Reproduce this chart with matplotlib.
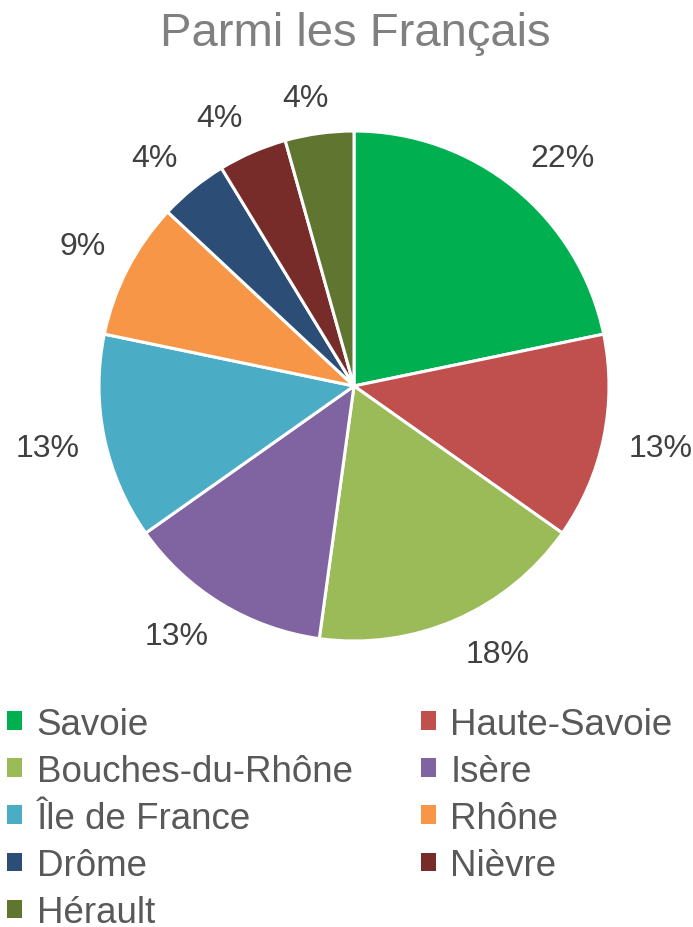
import numpy as np
import matplotlib.pyplot as plt
from matplotlib.patches import Patch

plt.rcParams['font.family'] = ['Liberation Sans', 'DejaVu Sans']

regions = ['Savoie', 'Haute-Savoie', 'Bouches-du-Rhône', 'Isère', 'Île de France',
           'Rhône', 'Drôme', 'Nièvre', 'Hérault']
counts = [5, 3, 4, 3, 3, 2, 1, 1, 1]
colors = ['#00B050', '#C0504D', '#9BBB59', '#8064A2', '#4BACC6',
          '#F79646', '#2C4D75', '#772C2A', '#5F7530']

# whole percentages that add up to 100 (largest remainder)
raw = 100.0 * np.array(counts) / sum(counts)
pct = np.floor(raw).astype(int)
for i in np.argsort(-(raw - pct))[:100 - pct.sum()]:
    pct[i] += 1

fig = plt.figure(figsize=(6.93, 9.28), dpi=100)
fig.text(0.512, 0.963, 'Parmi les Français', ha='center', va='center',
         fontsize=34, color='#808080')

# pie centre ~ (354, 387) px, radius ~255 px
R_PX = 255.0
ax = fig.add_axes([(354 - R_PX) / 693, (541 - R_PX) / 928, 2 * R_PX / 693, 2 * R_PX / 928])
wedges = ax.pie(counts, colors=colors, startangle=90, counterclock=False,
                wedgeprops=dict(edgecolor='white', linewidth=2.2))[0]
ax.set_xlim(-1, 1)
ax.set_ylim(-1, 1)
ax.set_aspect('equal')

# outside-end labels: the near corner/edge of the label sits on the mid ray
renderer = fig.canvas.get_renderer()
D = 1 + 25.0 / R_PX
for w, p in zip(wedges, pct):
    mid = np.deg2rad((w.theta1 + w.theta2) / 2)
    c, s = np.cos(mid), np.sin(mid)
    t = ax.text(0, 0, '%d%%' % p, ha='center', va='center', fontsize=23, color='#404040')
    bb = t.get_window_extent(renderer)
    a = bb.width / 2 / R_PX
    b = 0.36 * bb.height / R_PX
    t.set_position((D * c + a * np.clip(c / 0.3, -1, 1),
                    D * s + b * np.clip(s / 0.4, -1, 1)))

# legend filled row by row, matplotlib fills column by column
order = [0, 2, 4, 6, 8, 1, 3, 5, 7]
handles = [Patch(facecolor=colors[i], label=regions[i]) for i in order]
fig.legend(handles=handles, loc='upper left', bbox_to_anchor=(0.0, 0.2455),
           ncol=2, frameon=False, fontsize=26.5, handlelength=0.4, handleheight=0.4,
           handletextpad=0.4, columnspacing=1.85, labelspacing=0.33, borderpad=0.2,
           labelcolor='#595959', borderaxespad=0.0)

fig.savefig('out.png', dpi=100)
